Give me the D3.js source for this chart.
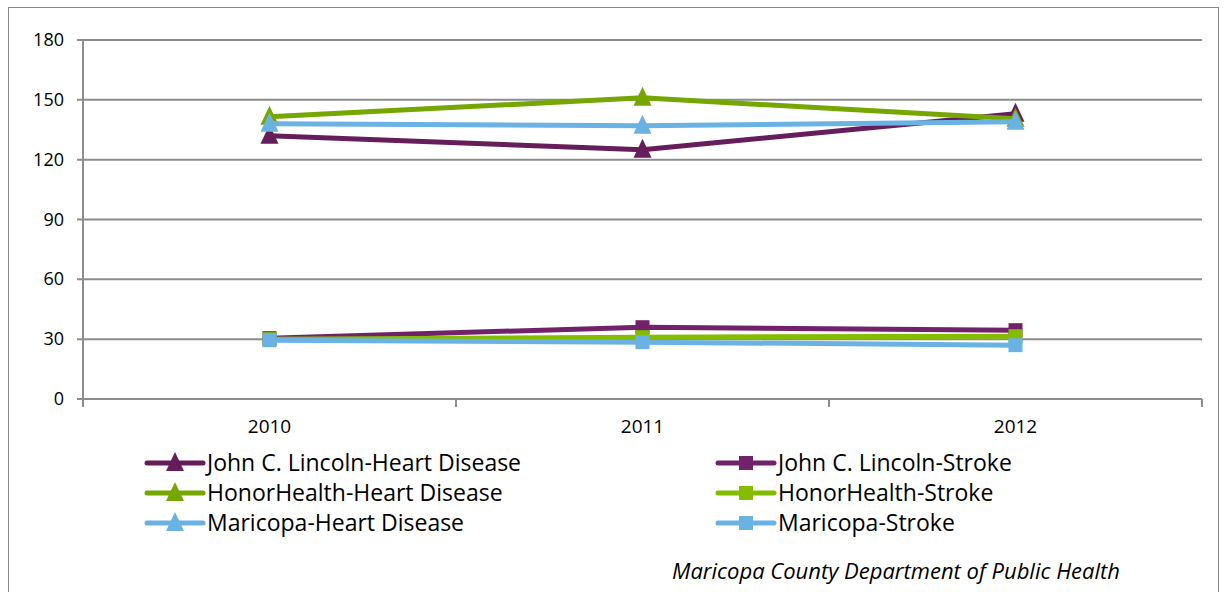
<!DOCTYPE html>
<html>
<head>
<meta charset="utf-8">
<script src="https://cdnjs.cloudflare.com/ajax/libs/d3/7.8.5/d3.min.js"></script>
<style>
	body { margin: 0; background: #fff; }
	svg { font-family: "Open Sans", "Noto Sans", sans-serif; }
	.grid line { stroke: #8c8c8c; stroke-width: 2; }
</style>
</head>
<body>
<div id="chart"></div>
<script>
	// chart values
	var years = ["2010", "2011", "2012"];
	var yTicks = [0, 30, 60, 90, 120, 150, 180];

	var seriesNames = [
		"John C. Lincoln-Heart Disease", "John C. Lincoln-Stroke",
		"HonorHealth-Heart Disease", "HonorHealth-Stroke",
		"Maricopa-Heart Disease", "Maricopa-Stroke"
	];
	var jclHeart = [132, 125, 143];
	var jclStroke = [30.5, 36, 34.5];
	var hhHeart = [141.5, 151, 140.5];
	var hhStroke = [30, 31, 31.5];
	var maricopaHeart = [138, 137, 139];
	var maricopaStroke = [29.5, 28.5, 27];

	var colors = ["#661d5b", "#72226b", "#76a600", "#84bc00", "#6ab2e4", "#6ab2e4"];
	var shapes = ["tri", "sq", "tri", "sq", "tri", "sq"];
	var values = [jclHeart, jclStroke, hhHeart, hhStroke, maricopaHeart, maricopaStroke];

	var width = 1225, height = 592;
	var svg = d3.select("#chart").append("svg")
		.attr("width", width)
		.attr("height", height);

	// outer frame
	svg.append("rect")
		.attr("x", 8.5).attr("y", 7.5)
		.attr("width", 1210).attr("height", 600)
		.attr("fill", "none")
		.attr("stroke", "#888").attr("stroke-width", 1);

	var x = d3.scaleBand().domain(years).range([83, 1202]);
	var y = d3.scaleLinear().domain([0, 180]).range([399, 40]);

	// gridlines + y ticks
	var grid = svg.append("g").attr("class", "grid");
	grid.selectAll("line")
		.data(yTicks)
		.enter().append("line")
		.attr("x1", 77).attr("x2", 1202)
		.attr("y1", d => y(d)).attr("y2", d => y(d));

	svg.append("line")
		.attr("x1", 83).attr("x2", 83)
		.attr("y1", 40).attr("y2", 405)
		.attr("stroke", "#8c8c8c").attr("stroke-width", 2);

	svg.selectAll(".ylab")
		.data(yTicks)
		.enter().append("text")
		.attr("class", "ylab")
		.attr("x", 64)
		.attr("y", d => y(d) + 6)
		.attr("text-anchor", "end")
		.attr("font-size", 18)
		.text(d => d);

	// x axis ticks between categories
	var xEdges = [83].concat(years.map(d => x(d) + x.bandwidth()));
	svg.selectAll(".xtick")
		.data(xEdges)
		.enter().append("line")
		.attr("x1", d => d).attr("x2", d => d)
		.attr("y1", 399).attr("y2", 407)
		.attr("stroke", "#8c8c8c").attr("stroke-width", 2);

	svg.selectAll(".xlab")
		.data(years)
		.enter().append("text")
		.attr("x", d => x(d) + x.bandwidth() / 2)
		.attr("y", 433)
		.attr("text-anchor", "middle")
		.attr("font-size", 19)
		.text(d => d);

	function marker(g, shape, color, cx, cy) {
		if (shape == "tri") {
			g.append("path")
				.attr("d", "M" + cx + "," + (cy - 11) + "L" + (cx + 9) + "," + (cy + 8) + "L" + (cx - 9) + "," + (cy + 8) + "Z")
				.attr("fill", color);
		} else {
			g.append("rect")
				.attr("x", cx - 7).attr("y", cy - 7)
				.attr("width", 14).attr("height", 14)
				.attr("fill", color);
		}
	}

	var line = d3.line()
		.x((d, i) => x(years[i]) + x.bandwidth() / 2)
		.y(d => y(d));

	values.forEach(function (vals, s) {
		var g = svg.append("g");
		g.append("path")
			.datum(vals)
			.attr("d", line)
			.attr("fill", "none")
			.attr("stroke", colors[s])
			.attr("stroke-width", 5)
			.attr("stroke-linejoin", "round")
			.attr("stroke-linecap", "round");
		vals.forEach(function (v, i) {
			marker(g, shapes[s], colors[s], x(years[i]) + x.bandwidth() / 2, y(v));
		});
	});

	// legend
	var legX = [147, 718], legY = [463, 493, 523];
	seriesNames.forEach(function (name, s) {
		var lx = legX[s % 2], ly = legY[Math.floor(s / 2)];
		var g = svg.append("g");
		g.append("line")
			.attr("x1", lx).attr("x2", lx + 56)
			.attr("y1", ly).attr("y2", ly)
			.attr("stroke", colors[s]).attr("stroke-width", 5)
			.attr("stroke-linecap", "round");
		marker(g, shapes[s], colors[s], lx + 28, ly);
		g.append("text")
			.attr("x", lx + 60)
			.attr("y", ly + 8)
			.attr("font-size", 23)
			.text(name);
	});

	svg.append("text")
		.attr("x", 1120)
		.attr("y", 579)
		.attr("text-anchor", "end")
		.attr("font-size", 22)
		.attr("font-style", "italic")
		.text("Maricopa County Department of Public Health");
</script>
</body>
</html>
